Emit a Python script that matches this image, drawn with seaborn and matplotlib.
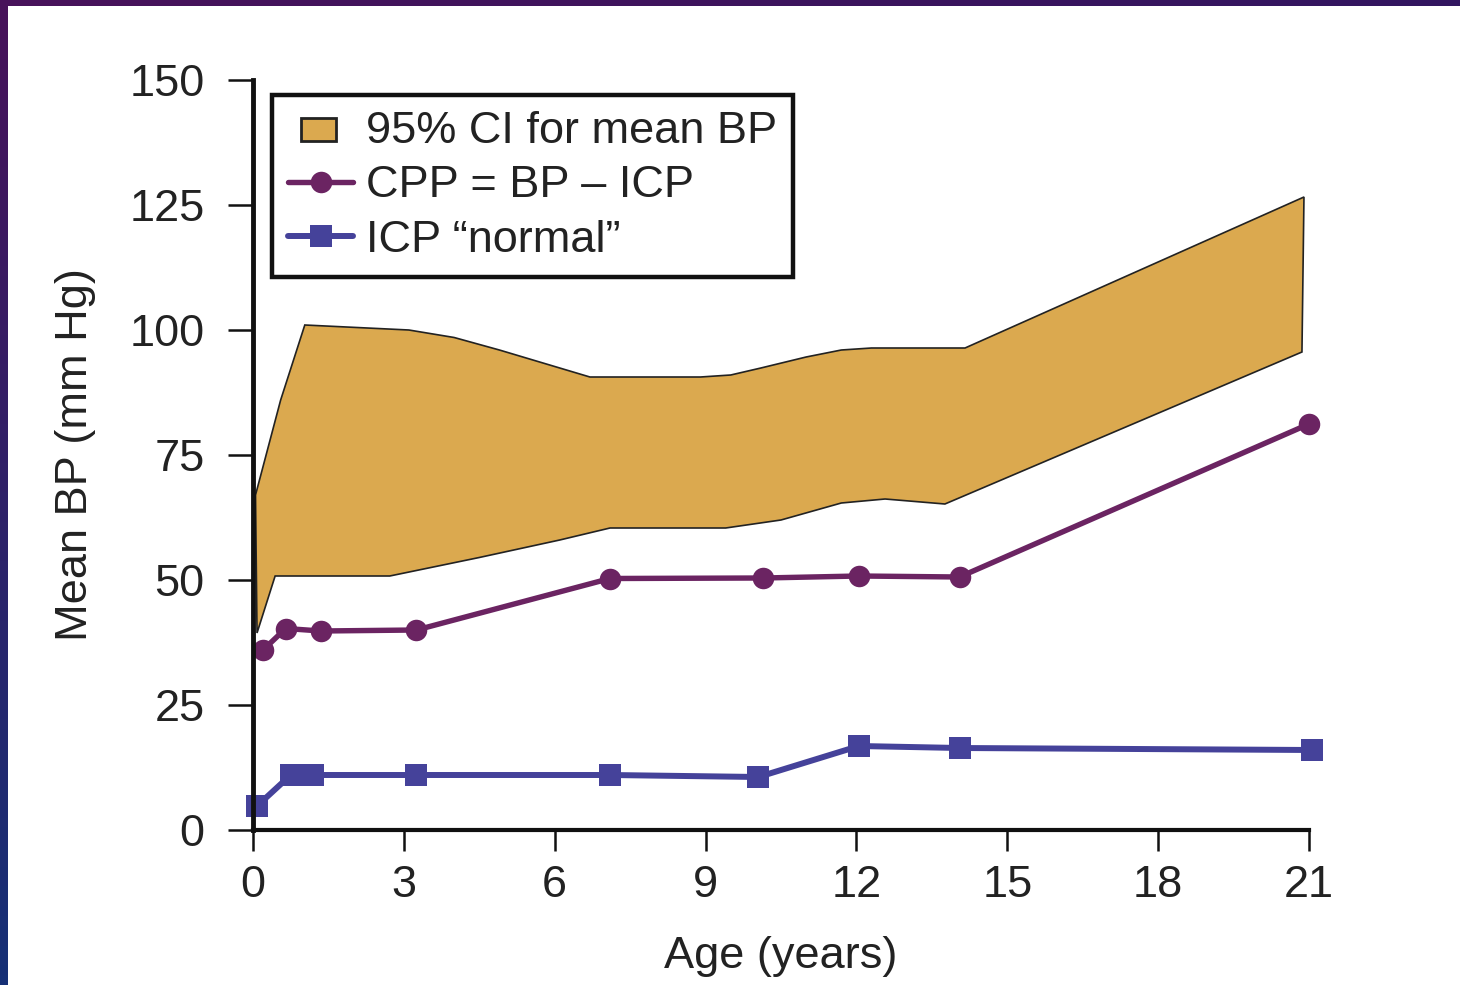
import numpy as np
import pandas as pd
import matplotlib
matplotlib.use("Agg")
import matplotlib.pyplot as plt
import seaborn as sns
from matplotlib.patches import Rectangle, Patch
from matplotlib.legend_handler import HandlerPatch
from matplotlib.lines import Line2D

# ---------------- data ----------------
cpp_age = [0.2, 0.65, 1.35, 3.25, 7.1, 10.15, 12.05, 14.05, 21.0]
cpp_val = [36.0, 40.3, 39.8, 40.0, 50.3, 50.4, 50.8, 50.6, 81.2]

icp_age = [0.08, 0.75, 1.2, 3.25, 7.1, 10.05, 12.05, 14.05, 21.05]
icp_val = [4.8, 11.0, 11.0, 11.0, 11.0, 10.6, 16.8, 16.4, 16.0]

ci_upper_age = [0.05, 0.55, 1.03, 3.1, 4.0, 4.9, 6.1, 6.7, 8.9, 9.5, 10.1, 11.0, 11.7, 12.3, 14.16, 20.9]
ci_upper_val = [67.0, 86.0, 101.0, 100.0, 98.5, 96.0, 92.4, 90.6, 90.6, 91.0, 92.4, 94.6, 96.0, 96.4, 96.4, 126.6]
ci_lower_age = [0.08, 0.44, 2.72, 4.5, 6.1, 7.1, 9.4, 10.5, 11.7, 12.57, 13.76, 20.86]
ci_lower_val = [39.4, 50.8, 50.8, 54.5, 58.0, 60.4, 60.4, 62.0, 65.4, 66.2, 65.2, 95.6]

x_ticks = [0, 3, 6, 9, 12, 15, 18, 21]
y_ticks = [0, 25, 50, 75, 100, 125, 150]

labels = ["95% CI for mean BP", "CPP = BP \u2013 ICP", "ICP \u201cnormal\u201d"]

# ---------------- style ----------------
sns.set_style("ticks")
plt.rcParams['font.family'] = ['Liberation Sans', 'DejaVu Sans']

GOLD = "#DBA94F"
PURPLE = "#6B2462"
BLUE = "#45429A"
FS = 32.5

fig = plt.figure(figsize=(14.6, 9.85), dpi=100)

# background frame gradient
bg = fig.add_axes([0, 0, 1, 1], zorder=-10)
h, w = 100, 146
yy, xx = np.mgrid[0:h, 0:w] / np.array([h - 1, w - 1])[:, None, None]
tl = np.array([72, 18, 90]) / 255
bl = np.array([22, 48, 118]) / 255
tr = np.array([50, 22, 96]) / 255
br = np.array([30, 40, 110]) / 255
img = (tl[None, None] * ((1 - yy) * (1 - xx))[..., None] + bl[None, None] * (yy * (1 - xx))[..., None]
       + tr[None, None] * ((1 - yy) * xx)[..., None] + br[None, None] * (yy * xx)[..., None])
bg.imshow(img, extent=[0, 1, 0, 1], aspect='auto', origin='upper')
bg.add_patch(Rectangle((8 / 1460, 0), 1, 1 - 6 / 985, facecolor='white', edgecolor='none'))
bg.set_xlim(0, 1)
bg.set_ylim(0, 1)
bg.axis('off')

ax = fig.add_axes([253 / 1460, 1 - 830 / 985, (1309 - 253) / 1460, (830 - 80) / 985])
ax.set_facecolor('none')

# CI band polygon
poly_x = list(ci_upper_age) + list(ci_lower_age[::-1])
poly_y = list(ci_upper_val) + list(ci_lower_val[::-1])
ax.fill(poly_x, poly_y, facecolor=GOLD, edgecolor='#222222', linewidth=1.2, zorder=2)

cpp_df = pd.DataFrame({"age": cpp_age, "val": cpp_val})
icp_df = pd.DataFrame({"age": icp_age, "val": icp_val})
sns.lineplot(data=cpp_df, x="age", y="val", ax=ax, color=PURPLE, linewidth=3.9,
             marker='o', markersize=15.5, markeredgewidth=0, clip_on=False, zorder=4,
             estimator=None, sort=False)
sns.lineplot(data=icp_df, x="age", y="val", ax=ax, color=BLUE, linewidth=4.3,
             marker='s', markersize=16, markeredgewidth=0, clip_on=False, zorder=4,
             estimator=None, sort=False)

ax.set_xlim(0, 21)
ax.set_ylim(0, 150)
ax.set_xticks(x_ticks)
ax.set_yticks(y_ticks)
ax.set_xticklabels([str(t) for t in x_ticks])
ax.set_yticklabels([str(t) for t in y_ticks])

for s in ['top', 'right']:
    ax.spines[s].set_visible(False)
ax.spines['left'].set_linewidth(3.5)
ax.spines['bottom'].set_linewidth(3.0)
ax.spines['left'].set_color('#111111')
ax.spines['bottom'].set_color('#111111')
ax.spines['left'].set_zorder(5)
ax.tick_params(axis='y', direction='out', length=18, width=1.8, pad=17,
               labelsize=FS, colors='#111111', labelcolor='#222222')
ax.tick_params(axis='x', direction='out', length=15, width=1.8, pad=10,
               labelsize=FS, colors='#111111', labelcolor='#222222')

ax.set_xlabel("Age (years)", fontsize=FS, color='#222222', labelpad=22)
ax.set_ylabel("Mean BP (mm Hg)", fontsize=FS, color='#222222', labelpad=24)


def small_rect(legend, orig_handle, xdescent, ydescent, width, height, fontsize):
    return Rectangle((-xdescent + 0.2 * width, -ydescent + 0.05 * height), 0.54 * width, 0.75 * height)


handles = [
    Patch(facecolor=GOLD, edgecolor='#222222', linewidth=2),
    Line2D([], [], color=PURPLE, linewidth=3.9, marker='o', markersize=15.5, markeredgewidth=0),
    Line2D([], [], color=BLUE, linewidth=4.3, marker='s', markersize=16, markeredgewidth=0),
]
leg = ax.legend(handles, labels, loc='upper left', bbox_to_anchor=(0.018, 0.98),
                borderaxespad=0, fontsize=FS, frameon=True, fancybox=False,
                handlelength=1.45, handletextpad=0.28, borderpad=0.35, labelspacing=0.3,
                handler_map={Patch: HandlerPatch(patch_func=small_rect)})
frame = leg.get_frame()
frame.set_edgecolor('#111111')
frame.set_linewidth(3.2)
frame.set_facecolor('white')
frame.set_alpha(1)
for t in leg.get_texts():
    t.set_color('#222222')

fig.savefig("out.png", dpi=100)
